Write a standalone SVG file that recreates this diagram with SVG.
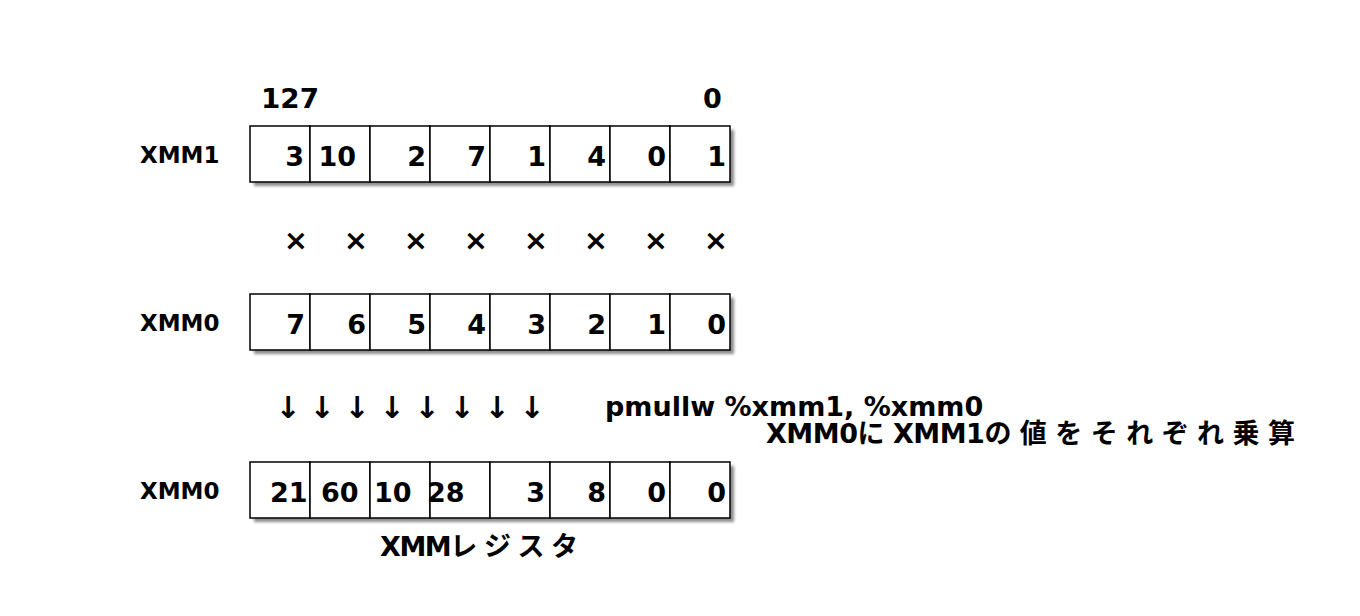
<svg xmlns="http://www.w3.org/2000/svg" width="1360" height="616" viewBox="0 0 1360 616">
<style>
.t{font-family:"DejaVu Sans","Noto Sans CJK JP",sans-serif;font-weight:bold;fill:#000}
.n{font-size:27px}
.l{font-size:23px}
.a{font-size:30px}
.x{font-size:29px}
.cell{fill:#fff;stroke:#000;stroke-width:1.5}
.sh{fill:#8c8c8c;filter:url(#blur)}
</style>
<defs>
<filter id="blur" x="-5%" y="-20%" width="110%" height="140%"><feGaussianBlur stdDeviation="1.6"/></filter>
</defs>
<rect width="1360" height="616" fill="#fff"/>
<g id="labels">
<text class="t l" x="140" y="163">XMM1</text>
<text class="t l" x="140" y="331">XMM0</text>
<text class="t l" x="140" y="499">XMM0</text>
<text class="t n" x="261" y="108" textLength="58" lengthAdjust="spacingAndGlyphs">127</text>
<text class="t n" x="703" y="108">0</text>
</g>
<g id="xmm1">
<rect class="sh" x="254" y="130" width="480" height="56"/>
<rect class="cell" x="250" y="126" width="60" height="56"/><rect class="cell" x="310" y="126" width="60" height="56"/><rect class="cell" x="370" y="126" width="60" height="56"/><rect class="cell" x="430" y="126" width="60" height="56"/><rect class="cell" x="490" y="126" width="60" height="56"/><rect class="cell" x="550" y="126" width="60" height="56"/><rect class="cell" x="610" y="126" width="60" height="56"/><rect class="cell" x="670" y="126" width="60" height="56"/>
<text class="t n" y="166" text-anchor="end"><tspan x="304">3</tspan><tspan x="356">10</tspan><tspan x="426">2</tspan><tspan x="486">7</tspan><tspan x="546">1</tspan><tspan x="606">4</tspan><tspan x="666">0</tspan><tspan x="726">1</tspan></text>
</g>
<g id="times">
<text class="t x" y="250" text-anchor="middle"><tspan x="296">×</tspan><tspan x="356">×</tspan><tspan x="416">×</tspan><tspan x="476">×</tspan><tspan x="536">×</tspan><tspan x="596">×</tspan><tspan x="656">×</tspan><tspan x="716">×</tspan></text>
</g>
<g id="xmm0">
<rect class="sh" x="254" y="298" width="480" height="56"/>
<rect class="cell" x="250" y="294" width="60" height="56"/><rect class="cell" x="310" y="294" width="60" height="56"/><rect class="cell" x="370" y="294" width="60" height="56"/><rect class="cell" x="430" y="294" width="60" height="56"/><rect class="cell" x="490" y="294" width="60" height="56"/><rect class="cell" x="550" y="294" width="60" height="56"/><rect class="cell" x="610" y="294" width="60" height="56"/><rect class="cell" x="670" y="294" width="60" height="56"/>
<text class="t n" y="334" text-anchor="end"><tspan x="305">7</tspan><tspan x="366">6</tspan><tspan x="426">5</tspan><tspan x="486">4</tspan><tspan x="546">3</tspan><tspan x="606">2</tspan><tspan x="666">1</tspan><tspan x="726">0</tspan></text>
</g>
<g id="connectors">
<text class="t a" y="418" text-anchor="middle"><tspan x="288">↓</tspan><tspan x="322">↓</tspan><tspan x="357">↓</tspan><tspan x="392">↓</tspan><tspan x="427">↓</tspan><tspan x="462">↓</tspan><tspan x="497">↓</tspan><tspan x="532">↓</tspan></text>
</g>
<g id="op">
<text class="t n" x="605" y="416">pmullw %xmm1, %xmm0</text>
<text class="t n" x="766" y="443" textLength="529" lengthAdjust="spacing">XMM0に XMM1の 値 を そ れ ぞ れ 乗 算</text>
</g>
<g id="result">
<rect class="sh" x="254" y="466" width="480" height="56"/>
<rect class="cell" x="250" y="462" width="60" height="56"/><rect class="cell" x="310" y="462" width="60" height="56"/><rect class="cell" x="370" y="462" width="60" height="56"/><rect class="cell" x="430" y="462" width="60" height="56"/><rect class="cell" x="490" y="462" width="60" height="56"/><rect class="cell" x="550" y="462" width="60" height="56"/><rect class="cell" x="610" y="462" width="60" height="56"/><rect class="cell" x="670" y="462" width="60" height="56"/>
<text class="t n" y="502"><tspan x="270">21</tspan><tspan x="321">60</tspan><tspan x="374">10</tspan><tspan x="427">28</tspan></text>
<text class="t n" y="502" text-anchor="end"><tspan x="545">3</tspan><tspan x="606">8</tspan><tspan x="666">0</tspan><tspan x="726">0</tspan></text>
<text class="t n" x="380" y="556" textLength="198" lengthAdjust="spacing">XMMレ ジ ス タ</text>
</g>
</svg>
